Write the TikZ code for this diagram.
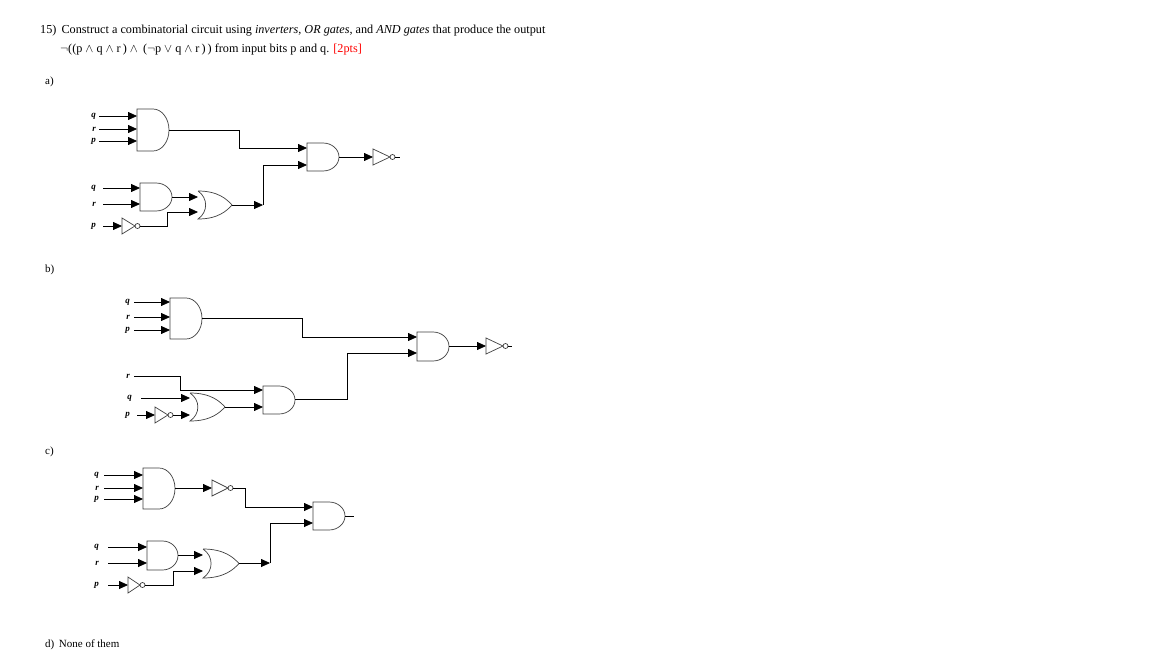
\documentclass[tikz,border=0pt]{standalone}
\usepackage{fontspec}
\setmainfont{Liberation Serif}
\usetikzlibrary{arrows.meta}
\tikzset{
  gate/.style={draw=black!75,line width=0.7pt},
  wire/.style={draw=black,line width=0.8pt},
  arr/.style={wire,-{Triangle[length=9pt,width=8pt]}},
  lbl/.style={font=\fontsize{9}{9}\selectfont\bfseries\itshape,anchor=east,inner sep=1pt},
  txt/.style={font=\fontsize{12.2}{14}\selectfont,anchor=west,inner sep=0pt}
}
\newcommand\andg[4]{% l t b r
  \draw[gate] ({#1+0.5*(#4-#1)},#2) -- (#1,#2) -- (#1,#3) -- ({#1+0.5*(#4-#1)},#3)
    arc[start angle=90,end angle=-90,x radius={0.5*(#4-#1)},y radius={0.5*(#3-#2)}];}
\newcommand\org[4]{% l t b r
  \draw[gate] (#1,#2) .. controls ({#1+0.6*(#4-#1)},#2) and ({#1+0.85*(#4-#1)},{#2+0.3*(#3-#2)}) .. (#4,{0.5*(#2+#3)})
    .. controls ({#1+0.85*(#4-#1)},{#3-0.3*(#3-#2)}) and ({#1+0.6*(#4-#1)},#3) .. (#1,#3)
    .. controls ({#1+0.3*(#4-#1)},{#3-0.25*(#3-#2)}) and ({#1+0.3*(#4-#1)},{#2+0.25*(#3-#2)}) .. (#1,#2);}
\newcommand\notg[3]{% l m r
  \draw[gate] (#1,{#2-8}) -- (#3,#2) -- (#1,{#2+8}) -- cycle;
  \draw[gate] ({#3+2.5},#2) circle[radius=2.5];}
\begin{document}
\begin{tikzpicture}[x=1pt,y=-1pt]
\useasboundingbox[fill=white] (0,0) rectangle (1152,667);
\node[txt] (t1) at (40,31) {15)\, Construct a combinatorial circuit using \textit{inverters}, \textit{OR gates}, and \textit{AND gates} that produce the output};
\node[txt] (t2) at (60,50) {$\neg$((p $\wedge$ q $\wedge$ r\,) $\wedge$\, ($\neg$p $\vee$ q $\wedge$ r\,)\,) from input bits p and q. \textcolor{red}{[2pts]}};
\node[txt,font=\fontsize{11}{13}\selectfont] (la) at (45,82) {a)};
\node[txt,font=\fontsize{11}{13}\selectfont] (lb) at (45,270) {b)};
\node[txt,font=\fontsize{11}{13}\selectfont] (lc) at (45,452) {c)};
\node[txt,font=\fontsize{11}{13}\selectfont] (ld) at (45,645) {d)\, None of them};

% ---------- a)
\andg{137}{109}{151}{169}
\foreach \y/\n in {116/q,129/r,141/p}{\node[lbl] at (97,\y) {\n}; \draw[arr] (99,\y) -- (137,\y);}
\andg{140}{183}{211}{172}
\foreach \y/\n in {188/q,204/r}{\node[lbl] at (97,\y) {\n}; \draw[arr] (103,\y) -- (140,\y);}
\node[lbl] at (97,226) {p}; \draw[arr] (103,226) -- (122,226); \notg{122}{226}{135}
\org{198}{191}{219}{232}
\draw[arr] (172,197) -- (198,197);
\draw[arr] (140,226) -- (167,226) -- (167,212) -- (198,212);
\draw[arr] (232,205) -- (263,205);
\draw[arr] (263,205) -- (263,165) -- (307,165);
\draw[arr] (169,130) -- (239,130) -- (239,148) -- (307,148);
\andg{307}{143}{171}{339}
\draw[arr] (339,157) -- (373,157); \notg{373}{157}{390}
\draw[wire] (395,157) -- (400,157);

% ---------- b)
\andg{170}{298}{339}{202}
\foreach \y/\n in {302/q,317/r,330/p}{\node[lbl] at (131,\y) {\n}; \draw[arr] (134,\y) -- (170,\y);}
\draw[arr] (202,318) -- (302,318) -- (302,337) -- (417,337);
\andg{417}{332}{361}{449}
\draw[arr] (449,346) -- (486,346); \notg{486}{346}{503}
\draw[wire] (508,346) -- (512,346);
\node[lbl] at (131,376) {r};
\draw[arr] (134,376) -- (180,376) -- (180,390) -- (263,390);
\andg{263}{386}{414}{295}
\draw[arr] (295,399) -- (347,399) -- (347,353) -- (417,353);
\org{190}{393}{421}{225}
\draw[arr] (225,407) -- (263,407);
\node[lbl] at (133,398) {q}; \draw[arr] (141,398) -- (190,398);
\node[lbl] at (131,415) {p}; \draw[arr] (137,415) -- (155,415); \notg{155}{415}{168}
\draw[arr] (173,415) -- (190,415);

% ---------- c)
\andg{143}{468}{509}{175}
\foreach \y/\n in {475/q,488/r,499/p}{\node[lbl] at (100,\y) {\n}; \draw[arr] (104,\y) -- (143,\y);}
\draw[arr] (175,488) -- (212,488); \notg{212}{488}{228}
\draw[arr] (233,488) -- (245,488) -- (245,507) -- (313,507);
\andg{313}{502}{530}{345}
\draw[wire] (345,516) -- (354,516);
\andg{147}{541}{570}{178}
\foreach \y/\n in {547/q,563/r}{\node[lbl] at (100,\y) {\n}; \draw[arr] (108,\y) -- (147,\y);}
\org{203}{549}{578}{239}
\draw[arr] (178,555) -- (203,555);
\node[lbl] at (100,585) {p}; \draw[arr] (108,585) -- (128,585); \notg{128}{585}{140}
\draw[arr] (145,585) -- (173,585) -- (173,571) -- (203,571);
\draw[arr] (239,563) -- (270,563);
\draw[arr] (270,563) -- (270,523) -- (313,523);
\end{tikzpicture}
\end{document}
